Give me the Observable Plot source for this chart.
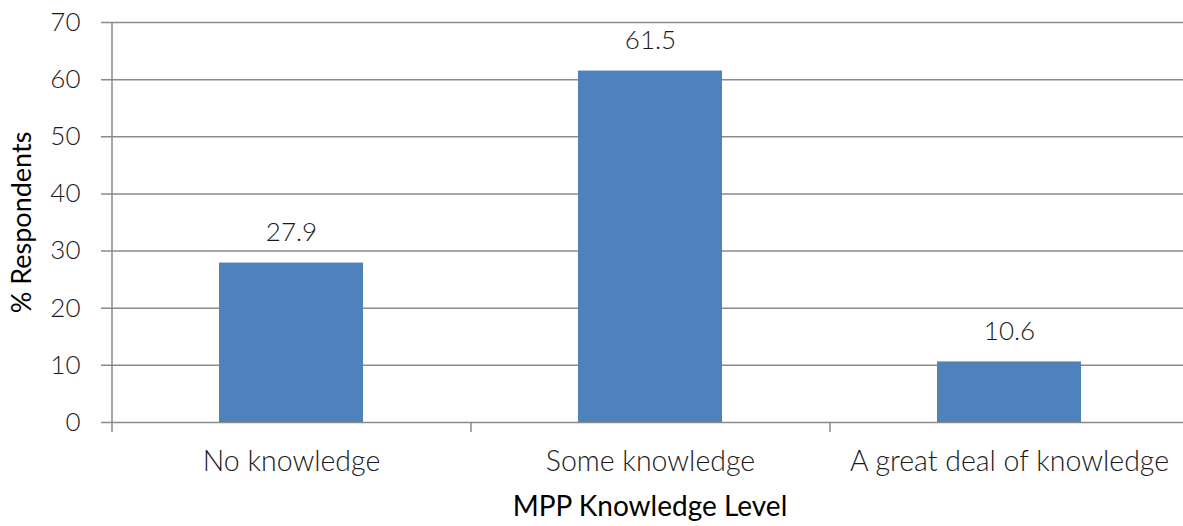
<!DOCTYPE html>
<html><head><meta charset="utf-8">
<script src="https://cdn.jsdelivr.net/npm/d3@7"></script>
<script src="https://cdn.jsdelivr.net/npm/@observablehq/plot@0.6"></script>
<style>
html,body{margin:0;padding:0;background:#fff;overflow:hidden;}
</style></head><body><div id="chart"></div>
<script>
const categories = ["No knowledge", "Some knowledge", "A great deal of knowledge"];
const values = [27.9, 61.5, 10.6];
const yTicks = [0, 10, 20, 30, 40, 50, 60, 70];
const xTitle = "MPP Knowledge Level";
const yTitle = "% Respondents";

const data = categories.map((c, i) => ({level: c, pct: values[i]}));

const W = 1183, H = 526, mL = 111, mR = -5, mT = 22, mB = 104;
const step = (W - mR - mL) / categories.length;
const grid = "#8a8a8a";
const ink = "#1a1a1a";
const fmt = d3.format(".1f");

const chart = Plot.plot({
  width: W, height: H,
  marginLeft: mL, marginRight: mR, marginTop: mT, marginBottom: mB,
  style: {fontFamily: "Lato, 'Open Sans', sans-serif", fontSize: "26px", fontWeight: 300, color: ink, background: "#fff", overflow: "visible"},
  x: {domain: categories, paddingInner: 0.6, paddingOuter: 0.3},
  y: {domain: [0, 70]},
  marks: [
    Plot.ruleY(yTicks, {stroke: grid, strokeWidth: 1.5, insetLeft: -10}),
    Plot.barY(data, {x: "level", y: "pct", fill: "#4f81bd"}),
    Plot.ruleX([categories[0]], {x: d => d, dx: -step / 2, y1: 70, y2: 0, stroke: grid, strokeWidth: 1.5}),
    Plot.ruleX(categories, {x: d => d, dx: -step / 2, y1: 0, y2: 0, insetBottom: -10, stroke: grid, strokeWidth: 1.5}),
    Plot.axisY({ticks: yTicks, tickSize: 0, tickPadding: 31, label: null, fill: ink, fontSize: 26}),
    Plot.axisX({tickSize: 0, tickPadding: 28, label: null, fill: ink, fontSize: 28.5}),
    Plot.text(data, {x: "level", y: "pct", text: d => fmt(d.pct), dy: -30, lineAnchor: "middle", fill: ink, fontSize: 26}),
    Plot.text([xTitle], {frameAnchor: "bottom", text: d => d, dy: 85, lineAnchor: "middle", textAnchor: "middle", fill: "#000", fontWeight: 400, fontSize: 28}),
    Plot.text([yTitle], {frameAnchor: "left", text: d => d, rotate: -90, dx: -89, lineAnchor: "middle", textAnchor: "middle", fill: "#000", fontWeight: 400, fontSize: 27})
  ]
});
document.getElementById("chart").appendChild(chart);
</script>
</body></html>
